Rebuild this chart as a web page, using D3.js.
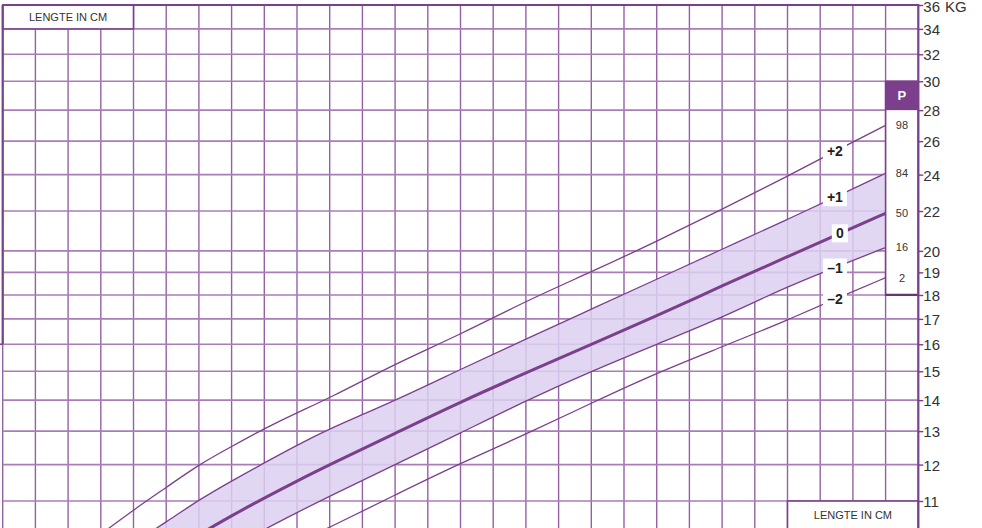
<!DOCTYPE html>
<html>
<head>
<meta charset="utf-8">
<script src="https://cdn.jsdelivr.net/npm/d3@7"></script>
<style>
body { margin: 0; background: #fff; }
svg { display: block; font-family: "Liberation Sans", Arial, sans-serif; }
</style>
</head>
<body>
<div id="chart"></div>
<script>
// lengte (cm) en gewicht (kg) per SD-lijn
const lengthCm = [72, 74, 76, 78, 80, 82, 84, 86, 90, 94, 98, 102, 106, 110, 114, 118, 120];
const sdPlus2  = [10.16, 10.77, 11.36, 12.0, 12.53, 13.08, 13.59, 14.07, 15.27, 16.38, 17.74, 19.02, 20.46, 22.1, 23.9, 25.95, 27.0];
const sdPlus1  = [null, 9.95, 10.46, 11.03, 11.54, 12.05, 12.57, 13.08, 13.98, 15.07, 16.2, 17.4, 18.69, 20.08, 21.56, 23.2, 24.08];
const sdMedian = [null, null, null, 10.15, 10.62, 11.08, 11.54, 12.0, 12.93, 13.94, 14.94, 16.0, 17.12, 18.4, 19.72, 21.15, 21.88];
const sdMin1   = [null, null, null, null, 9.83, 10.28, 10.7, 11.13, 12.0, 12.94, 13.98, 15.0, 16.0, 17.05, 18.38, 19.55, 20.16];
const sdMin2   = [null, null, null, null, null, null, 9.95, 10.33, 11.16, 12.04, 12.9, 13.9, 14.94, 15.9, 16.95, 18.15, 18.76];

const sdLabels = ["+2", "+1", "0", "\u20131", "\u20132"];
const percentileLabels = ["98", "84", "50", "16", "2"];
const weightTicks = [11, 12, 13, 14, 15, 16, 17, 18, 19, 20, 22, 24, 26, 28, 30, 32, 34, 36];
const lengthGrid = [66, 68, 70, 72, 74, 76, 78, 80, 82, 84, 86, 88, 90, 92, 94, 96, 98, 100,
  102, 104, 106, 108, 110, 112, 114, 116, 118, 120];

const width = 982;
const height = 528;
const purple = "#7b3f8c";
const series = [sdPlus2, sdPlus1, sdMedian, sdMin1, sdMin2];

const x = d3.scaleLinear().domain([66, 122]).range([2.7, 918.3]);
const y = d3.scaleLog().domain([11, 36]).range([501, 5]);

const svg = d3.select("#chart").append("svg")
  .attr("width", width)
  .attr("height", height);

svg.append("defs").append("clipPath")
  .attr("id", "plot")
  .append("rect")
  .attr("x", x(66)).attr("y", y(36))
  .attr("width", x(122) - x(66)).attr("height", height - y(36));

// raster
svg.append("g").selectAll("line")
  .data(lengthGrid)
  .enter().append("line")
  .attr("x1", d => x(d)).attr("x2", d => x(d))
  .attr("y1", y(36)).attr("y2", height)
  .style("stroke", "#9561a6")
  .style("stroke-width", 1.4);

svg.append("g").selectAll("line")
  .data(weightTicks)
  .enter().append("line")
  .attr("x1", x(66)).attr("x2", x(122))
  .attr("y1", d => y(d)).attr("y2", d => y(d))
  .style("stroke", "#a97db8")
  .style("stroke-width", 1.6);

const plot = svg.append("g").attr("clip-path", "url(#plot)");

// band tussen -1 en +1 SD
const bandIdx = lengthCm.map((d, i) => i).filter(i => sdPlus1[i] != null);
plot.append("path")
  .datum(bandIdx)
  .attr("d", d3.area()
    .x(i => x(lengthCm[i]))
    .y1(i => y(sdPlus1[i]))
    .y0(i => y(sdMin1[i] != null ? sdMin1[i] : 9))
    .curve(d3.curveBasis))
  .style("fill", "#dcd0f0")
  .style("fill-opacity", 0.85);

const line = d3.line()
  .defined(d => d[1] != null)
  .x(d => x(d[0]))
  .y(d => y(d[1]))
  .curve(d3.curveBasis);

series.forEach(function (s, k) {
  plot.append("path")
    .datum(lengthCm.map((l, i) => [l, s[i]]))
    .attr("d", line)
    .style("fill", "none")
    .style("stroke", purple)
    .style("stroke-width", k == 2 ? 3 : 1.3);
});

// witte vlakken
function box(x0, y0, x1, y1) {
  return svg.append("rect")
    .attr("x", x0).attr("y", y0)
    .attr("width", x1 - x0).attr("height", y1 - y0)
    .style("fill", "#fff")
    .style("stroke", purple)
    .style("stroke-width", 1.6);
}

box(x(66), y(36), x(74), y(34));
svg.append("text")
  .attr("x", (x(66) + x(74)) / 2).attr("y", (y(36) + y(34)) / 2)
  .attr("dy", "0.35em")
  .attr("text-anchor", "middle")
  .style("font-size", "11px")
  .style("fill", "#333")
  .text("LENGTE IN CM");

box(x(114), y(11), x(122), height + 5);
svg.append("text")
  .attr("x", (x(114) + x(122)) / 2).attr("y", (y(11) + height) / 2 + 1)
  .attr("dy", "0.35em")
  .attr("text-anchor", "middle")
  .style("font-size", "11px")
  .style("fill", "#333")
  .text("LENGTE IN CM");

// percentielkolom
box(x(120), y(30), x(122), y(18));
svg.append("rect")
  .attr("x", x(120)).attr("y", y(30))
  .attr("width", x(122) - x(120)).attr("height", y(28) - y(30))
  .style("fill", purple);
svg.append("text")
  .attr("x", (x(120) + x(122)) / 2).attr("y", (y(30) + y(28)) / 2)
  .attr("dy", "0.36em")
  .attr("text-anchor", "middle")
  .style("font-size", "13px")
  .style("font-weight", "bold")
  .style("fill", "#fff")
  .text("P");
svg.append("line")
  .attr("x1", x(120)).attr("x2", x(122))
  .attr("y1", y(18)).attr("y2", y(18))
  .style("stroke", "#6a3378")
  .style("stroke-width", 2.2);

svg.append("g").selectAll("text")
  .data(series)
  .enter().append("text")
  .attr("x", (x(120) + x(122)) / 2)
  .attr("y", d => y(d[d.length - 1]))
  .attr("dy", "0.35em")
  .attr("text-anchor", "middle")
  .style("font-size", "11px")
  .style("fill", "#333")
  .text((d, i) => percentileLabels[i]);

// SD-labels op de lijnen
function valueAt(s, cm) {
  for (let i = 1; i < lengthCm.length; i++) {
    if (lengthCm[i] >= cm) {
      const t = (cm - lengthCm[i - 1]) / (lengthCm[i] - lengthCm[i - 1]);
      return Math.exp(Math.log(s[i - 1]) * (1 - t) + Math.log(s[i]) * t);
    }
  }
}

const labelG = svg.append("g");
series.forEach(function (s, k) {
  const cm = k == 2 ? 117.2 : 116.9;
  const g = labelG.append("g")
    .attr("transform", "translate(" + x(cm) + "," + y(valueAt(s, cm)) + ")");
  g.append("rect")
    .attr("x", k == 2 ? -8 : -12).attr("y", -9)
    .attr("width", k == 2 ? 16 : 24).attr("height", 18)
    .style("fill", "#fff");
  g.append("text")
    .attr("dy", "0.36em")
    .attr("text-anchor", "middle")
    .style("font-size", "14px")
    .style("font-weight", "bold")
    .style("fill", "#222")
    .text(sdLabels[k]);
});

// randen en as
svg.append("line")
  .attr("x1", x(66)).attr("x2", x(122))
  .attr("y1", y(36)).attr("y2", y(36))
  .style("stroke", purple).style("stroke-width", 2.2);
svg.append("line")
  .attr("x1", x(66)).attr("x2", x(66))
  .attr("y1", y(36)).attr("y2", y(16))
  .style("stroke", purple).style("stroke-width", 2.2);
svg.append("line")
  .attr("x1", 0).attr("x2", x(66))
  .attr("y1", y(16)).attr("y2", y(16))
  .style("stroke", purple).style("stroke-width", 1.6);

const axis = svg.append("g")
  .attr("transform", "translate(" + x(122) + ",0)")
  .call(d3.axisRight(y).tickValues(weightTicks).tickFormat(d3.format("d")).tickSize(5).tickPadding(0));
axis.select(".domain").remove();
axis.selectAll(".tick line").style("stroke", purple).style("stroke-width", 1.4);
axis.selectAll(".tick text")
  .attr("x", 5)
  .attr("dy", "0.36em")
  .style("font-family", "\"Liberation Sans\", Arial, sans-serif")
  .style("font-size", "15px")
  .style("fill", "#333");
axis.selectAll(".tick").filter(d => d == 36).select("text").attr("dy", "0.45em");
svg.append("line")
  .attr("x1", x(122)).attr("x2", x(122))
  .attr("y1", y(36) - 1).attr("y2", height)
  .style("stroke", purple).style("stroke-width", 2.2);

svg.append("text")
  .attr("x", 945).attr("y", y(36))
  .attr("dy", "0.45em")
  .style("font-size", "15px")
  .style("fill", "#333")
  .text("KG");
</script>
</body>
</html>
